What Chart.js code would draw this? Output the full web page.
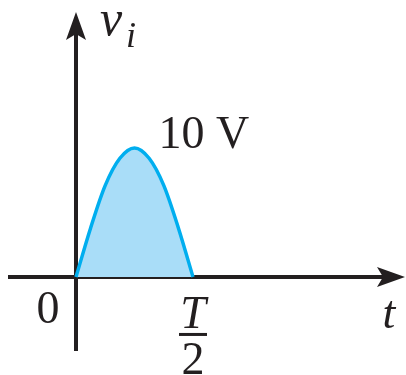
<!DOCTYPE html>
<html>
<head>
<meta charset="utf-8">
<script src="https://cdn.jsdelivr.net/npm/chart.js@4.4.1/dist/chart.umd.min.js"></script>
<style>
  html, body { margin: 0; padding: 0; background: #fff; }
  #wrap { position: relative; width: 406px; height: 375px; }
</style>
</head>
<body>
<div id="wrap"><canvas id="c" width="406" height="375"></canvas></div>
<script>
  // half-cycle of the input voltage, t in units of T
  var tValues = [0, 0.0625, 0.125, 0.1875, 0.25, 0.3125, 0.375, 0.4375, 0.5];
  var vValues = [0, 3.8, 7.1, 9.2, 10, 9.2, 7.1, 3.8, 0];
  var peakLabel = "10 V";
  var originLabel = "0";
  var halfPeriodNum = "T", halfPeriodDen = "2";
  var xAxisName = "t";

  var INK = "#231f20", CURVE = "#00aeef", FILL = "#a9ddf8";
  var SERIF = "'Liberation Serif', 'DejaVu Serif', serif";

  var axesPlugin = {
    id: "axes",
    beforeDatasetsDraw: function (chart) {
      var ctx = chart.ctx, x = chart.scales.x, y = chart.scales.y;
      var x0 = x.getPixelForValue(0), y0 = y.getPixelForValue(0);
      var left = x.getPixelForValue(x.min), right = x.getPixelForValue(x.max);
      var top = y.getPixelForValue(y.max), bottom = y.getPixelForValue(y.min);
      ctx.save();
      ctx.strokeStyle = INK; ctx.fillStyle = INK; ctx.lineWidth = 4;
      // horizontal axis
      ctx.beginPath(); ctx.moveTo(left, y0); ctx.lineTo(right - 20, y0); ctx.stroke();
      ctx.beginPath();
      ctx.moveTo(right, y0); ctx.lineTo(right - 28, y0 - 10);
      ctx.lineTo(right - 22, y0); ctx.lineTo(right - 28, y0 + 10);
      ctx.closePath(); ctx.fill();
      // vertical axis
      ctx.beginPath(); ctx.moveTo(x0, bottom); ctx.lineTo(x0, top + 20); ctx.stroke();
      ctx.beginPath();
      ctx.moveTo(x0, top); ctx.lineTo(x0 - 10, top + 28);
      ctx.lineTo(x0, top + 22); ctx.lineTo(x0 + 10, top + 28);
      ctx.closePath(); ctx.fill();
      ctx.restore();
    },
    afterDatasetsDraw: function (chart) {
      var ctx = chart.ctx, x = chart.scales.x, y = chart.scales.y;
      var x0 = x.getPixelForValue(0), y0 = y.getPixelForValue(0);
      var top = y.getPixelForValue(y.max), right = x.getPixelForValue(x.max);
      var iPeak = vValues.indexOf(Math.max.apply(null, vValues));
      var px = x.getPixelForValue(tValues[iPeak]), py = y.getPixelForValue(vValues[iPeak]);
      var xHalf = x.getPixelForValue(tValues[tValues.length - 1]);
      ctx.save();
      ctx.fillStyle = INK; ctx.textBaseline = "alphabetic";
      ctx.font = "46px " + SERIF;
      ctx.textAlign = "left";
      ctx.fillText(peakLabel, px + 24, py);
      ctx.textAlign = "center";
      ctx.fillText(originLabel, x0 - 28, y0 + 46);
      ctx.fillText(halfPeriodDen, xHalf, y0 + 97);
      ctx.font = "italic 46px " + SERIF;
      ctx.fillText(halfPeriodNum, xHalf, y0 + 51);
      ctx.fillText(xAxisName, right - 16, y0 + 51);
      ctx.fillRect(xHalf - 14, y0 + 56, 28, 3);
      // v with subscript i
      ctx.textAlign = "left";
      ctx.font = "italic 50px " + SERIF;
      ctx.fillText("v", x0 + 24, top + 23);
      ctx.font = "italic 36px " + SERIF;
      ctx.fillText("i", x0 + 50, top + 35);
      ctx.restore();
    }
  };

  new Chart(document.getElementById("c"), {
    type: "line",
    data: {
      datasets: [{
        data: tValues.map(function (t, i) { return { x: t, y: vValues[i] }; }),
        borderColor: CURVE, borderWidth: 3.5, backgroundColor: FILL,
        fill: "origin", pointRadius: 0, cubicInterpolationMode: "monotone"
      }]
    },
    options: {
      responsive: false, animation: false, devicePixelRatio: 1,
      layout: { padding: { left: 8, right: 1, top: 12, bottom: 24 } },
      plugins: { legend: { display: false }, tooltip: { enabled: false } },
      scales: {
        x: { type: "linear", min: -0.2906, max: 1.406, display: false },
        y: { type: "linear", min: -5.74, max: 20.54, display: false }
      }
    },
    plugins: [axesPlugin]
  });
</script>
</body>
</html>
